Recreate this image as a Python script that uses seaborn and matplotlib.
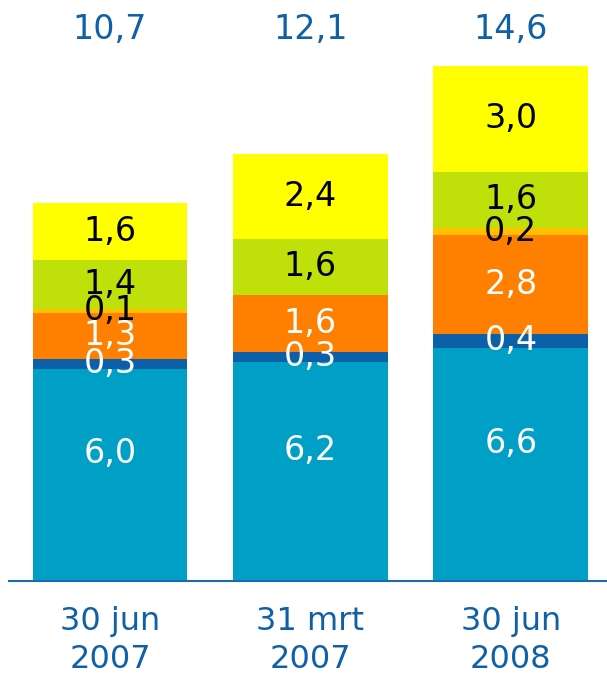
import numpy as np
import matplotlib
matplotlib.use("Agg")
import matplotlib.pyplot as plt
import matplotlib.transforms as mtransforms
import seaborn as sns

# data
categories = ["30 jun\n2007", "31 mrt\n2007", "30 jun\n2008"]
seg_cyan = [6.0, 6.2, 6.6]
seg_darkblue = [0.3, 0.3, 0.4]
seg_orange = [1.3, 1.6, 2.8]
seg_lightorange = [0.1, 0.0, 0.2]
seg_lime = [1.4, 1.6, 1.6]
seg_yellow = [1.6, 2.4, 3.0]
totals = [10.7, 12.1, 14.6]

series = [seg_cyan, seg_darkblue, seg_orange, seg_lightorange, seg_lime, seg_yellow]
colors = ["#00A0C6", "#0C60AA", "#FF7F00", "#FFC000", "#C0E00A", "#FFFF00"]
text_colors = ["white", "white", "white", "black", "black", "black"]
blue_txt = "#1060A8"

sns.set_theme(style="white")
plt.rcParams["font.family"] = ["DejaVu Sans"]

fig = plt.figure(figsize=(6.07, 6.75), dpi=100)
ax = fig.add_axes([0.0148, 0.1393, 0.985, 0.8607])

def fmt(v):
    return f"{v:.1f}".replace(".", ",")

bottom = np.zeros(len(categories))
for i, (vals, c) in enumerate(zip(series, colors)):
    vals = np.array(vals)
    sns.barplot(x=categories, y=vals, bottom=bottom, color=c, width=0.773,
                saturation=1, ax=ax, linewidth=0)
    for j, v in enumerate(vals):
        if v <= 0:
            continue
        y = bottom[j] + v / 2
        if i == 0:
            y += 0.6  # big base label sits a bit higher
        ax.text(j, y, fmt(v), ha="center", va="center", fontsize=24,
                color=text_colors[i])
    bottom = bottom + vals

# totals above bars
trans = mtransforms.blended_transform_factory(ax.transData, ax.transAxes)
for j, t in enumerate(totals):
    ax.text(j, 0.949, fmt(t), ha="center", va="center", fontsize=24,
            color=blue_txt, transform=trans)

ax.set_xlim(-0.504, 2.479)
ax.set_ylim(0, 16.46)
ax.set_yticks([])
ax.set_xticks(range(len(categories)))
ax.set_xticklabels(categories, fontsize=23, color=blue_txt, linespacing=1.3)
ax.tick_params(axis="x", length=0, pad=18)
for s in ["left", "right", "top"]:
    ax.spines[s].set_visible(False)
ax.spines["bottom"].set_color("#1A6AB0")
ax.spines["bottom"].set_linewidth(1.5)
ax.set_facecolor("white")

fig.savefig("out.png", dpi=100, facecolor="white")
